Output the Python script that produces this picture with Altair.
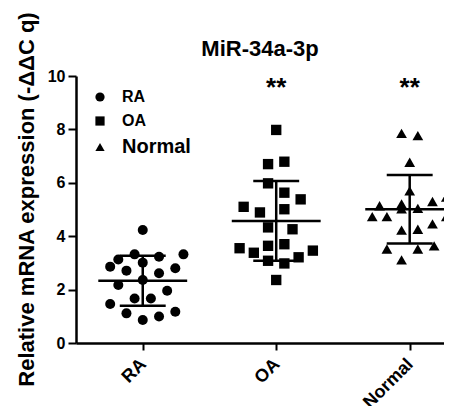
import altair as alt
import pandas as pd

groups = ["RA", "OA", "Normal"]
shapes = ["circle", "square", "triangle-up"]
marker_sizes = [100, 115, 110]
stars = ["", "**", "**"]
star_level = 9.25

ra_values = [4.23, 3.32, 3.23, 3.32, 3.13, 2.86, 2.71, 3.01, 2.80, 2.61,
             2.17, 2.36, 1.96, 1.67, 1.67, 1.46, 1.11, 0.86, 0.99, 1.17]
ra_slots = [0, -1, 2, 5, -3, -4, -2, 0, 4, 2, -3, 0, 3, -1, 1, -4, -2, 0, 2, 4]

oa_values = [7.98, 6.79, 6.70, 5.98, 5.63, 5.38, 5.10, 5.01, 4.89, 4.33,
             4.26, 3.55, 3.64, 3.70, 3.38, 3.46, 3.21, 3.08, 2.98, 2.36]
oa_slots = [0, 1, -1, -1, 1, 3, -4, 1, -2, -1, 2, -4.5, -1, 1, -2.75, 4.5, 2.75, -1, 1, 0]

normal_values = [7.85, 7.77, 6.77, 5.70, 5.46, 5.14, 5.21, 5.30, 5.02, 5.04,
                 4.73, 4.73, 4.73, 4.46, 4.23, 4.26, 3.52, 3.52, 3.64, 3.11]
normal_slots = [-1, 1, 0, 0, 4.5, -3.7, -1, 2.8, -1, 1, -4.6, -2.8, 4.5, 2.8, -1, 1, -2.8, 1, 3, -1]

SLOT = 0.061      # jitter slot width in category steps
MEAN_HALF = 0.333
CAP_HALF = 0.172
FONT = "Liberation Sans"

rows = []
for gi, (g, vals, slots) in enumerate(zip(groups, [ra_values, oa_values, normal_values],
                                          [ra_slots, oa_slots, normal_slots])):
    for v, s in zip(vals, slots):
        rows.append({"group": g, "idx": gi, "value": v, "slot": s})
df = pd.DataFrame(rows)
star_df = pd.DataFrame({"idx": list(range(len(groups))), "star": stars, "level": [star_level] * 3})

x_scale = alt.Scale(domain=[-0.5, 2.257], nice=False, zero=False)
y_scale = alt.Scale(domain=[0, 10], nice=False)

label_map = "{" + ",".join(f"'{i}':'{g}'" for i, g in enumerate(groups)) + "}"
x_axis = alt.Axis(values=[0, 1, 2], labelExpr=f"{label_map}[datum.value]", title=None,
                  grid=False, labelAngle=-45, labelAlign="right", labelBaseline="top",
                  labelFont=FONT, labelFontSize=18, labelFontWeight="bold", labelColor="black",
                  labelPadding=5, labelOffset=-6, tickSize=7, tickWidth=2, tickColor="black",
                  domainColor="black", domainWidth=2.5)
y_axis = alt.Axis(values=[0, 2, 4, 6, 8, 10], title="Relative mRNA expression (-ΔΔC q)",
                  grid=False, labelFont=FONT, labelFontSize=16, labelFontWeight="bold",
                  labelColor="black", labelPadding=3, tickSize=8, tickWidth=2, tickColor="black",
                  domainColor="black", domainWidth=2.5,
                  titleFont=FONT, titleFontSize=22, titleFontWeight="bold", titleColor="black",
                  titleX=-43, titleY=123, titleAngle=270, titleAlign="center",
                  titleBaseline="alphabetic")

base = alt.Chart(df)

points = base.transform_calculate(
    xpos=f"datum.idx + datum.slot * {SLOT}"
).mark_point(filled=True, color="black", opacity=1, clip=True).encode(
    x=alt.X("xpos:Q", scale=x_scale, axis=x_axis),
    y=alt.Y("value:Q", scale=y_scale, axis=y_axis),
    shape=alt.Shape("group:N", scale=alt.Scale(domain=groups, range=shapes),
                    legend=alt.Legend(title=None, orient="none", legendX=16, legendY=13,
                                      symbolSize=85, symbolFillColor="black",
                                      symbolStrokeColor="black", symbolStrokeWidth=0,
                                      labelFont=FONT, labelFontWeight="bold",
                                      labelColor="black", labelOffset=14, rowPadding=8,
                                      labelFontSize={"expr": "datum.label == 'Normal' ? 20 : 16"})),
    size=alt.Size("idx:N", scale=alt.Scale(domain=[0, 1, 2], range=marker_sizes), legend=None),
)

stats = base.transform_aggregate(
    mean="mean(value)", sd="stdev(value)", groupby=["idx"]
).transform_calculate(
    lo="datum.mean - datum.sd", hi="datum.mean + datum.sd",
    mx1=f"datum.idx - {MEAN_HALF}", mx2=f"datum.idx + {MEAN_HALF}",
    cx1=f"datum.idx - {CAP_HALF}", cx2=f"datum.idx + {CAP_HALF}",
)

rule_style = dict(color="black", strokeWidth=2.5, clip=True)
mean_rule = stats.mark_rule(**rule_style).encode(
    x=alt.X("mx1:Q", scale=x_scale, axis=x_axis), x2="mx2:Q",
    y=alt.Y("mean:Q", scale=y_scale, axis=y_axis))
sd_rule = stats.mark_rule(**rule_style).encode(
    x=alt.X("idx:Q", scale=x_scale, axis=x_axis),
    y=alt.Y("lo:Q", scale=y_scale, axis=y_axis), y2="hi:Q")
cap_hi = stats.mark_rule(**rule_style).encode(
    x=alt.X("cx1:Q", scale=x_scale, axis=x_axis), x2="cx2:Q",
    y=alt.Y("hi:Q", scale=y_scale, axis=y_axis))
cap_lo = stats.mark_rule(**rule_style).encode(
    x=alt.X("cx1:Q", scale=x_scale, axis=x_axis), x2="cx2:Q",
    y=alt.Y("lo:Q", scale=y_scale, axis=y_axis))

star_text = alt.Chart(star_df).mark_text(
    font=FONT, fontSize=26, fontWeight="bold", color="black", baseline="alphabetic", align="center"
).encode(
    x=alt.X("idx:Q", scale=x_scale, axis=x_axis),
    y=alt.Y("level:Q", scale=y_scale, axis=y_axis),
    text="star:N",
)

chart = alt.layer(points, mean_rule, sd_rule, cap_hi, cap_lo, star_text).properties(
    width=368, height=267,
    autosize=alt.AutoSizeParams(type="none"),
    padding={"left": 68, "top": 68, "right": 0, "bottom": 63},
    title=alt.TitleParams("MiR-34a-3p", font=FONT, fontSize=22, fontWeight="bold",
                          color="black", anchor="middle", frame="group",
                          baseline="alphabetic", offset=-67),
).configure_view(stroke=None)

chart.save("out.html", embed_options={"renderer": "svg", "actions": False})
